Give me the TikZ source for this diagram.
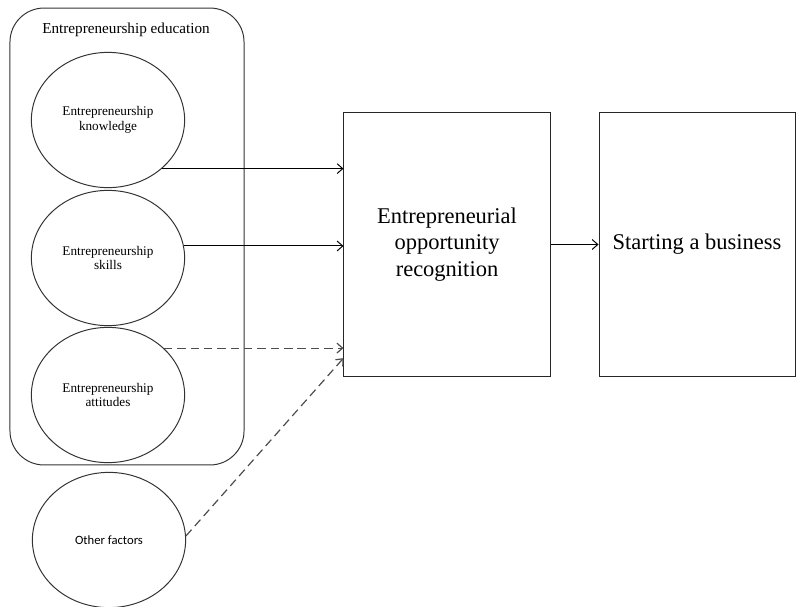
\documentclass[tikz,border=0pt]{standalone}
\usepackage{fontspec}
\setmainfont{Liberation Serif}
\newfontfamily\calibrifont{Carlito}
\usepackage{tikz}
\usetikzlibrary{arrows.meta,shapes,positioning}

\begin{document}
\begin{tikzpicture}[
    x=0.025cm, y=-0.025cm,
    line width=0.7pt,
    oval/.style={ellipse, draw=black!80, minimum width=3.83cm, minimum height=3.38cm, inner sep=0pt, align=center, font=\fontsize{9.4}{10.6}\selectfont},
    box/.style={rectangle, draw=black!85, minimum height=6.62cm, align=center, font=\fontsize{16}{19}\selectfont},
    arrow/.style={-{Straight Barb[length=4pt,width=7pt]}},
    dasharrow/.style={arrow, draw=black!70, line width=0.85pt, dash pattern=on 6pt off 3.5pt}
]
\useasboundingbox (0,0) rectangle (796,606);

% Entrepreneurship education group
\node[draw=black!80, rounded corners=0.85cm, minimum width=5.85cm, minimum height=11.42cm] (EDU) at (127,236.5) {};
\node[font=\fontsize{10.8}{13}\selectfont] (EDUT) at (126,30) {Entrepreneurship education};

% Ovals
\node[oval] (KN) at (108,120) {Entrepreneurship\\knowledge};
\node[oval] (SK) at (108,258) {Entrepreneurship\\skills};
\node[oval] (AT) at (108,395) {Entrepreneurship\\attitudes};
\node[oval, font=\calibrifont\fontsize{9}{11}\selectfont] (OF) at (109,540) {Other factors};

% Boxes
\node[box, minimum width=5.15cm] (EOR) at (447,244.5) {Entrepreneurial\\opportunity\\recognition};
\node[box, minimum width=4.9cm, right=1.2cm of EOR] (SB) {Starting a business};

% Arrows
\draw[arrow] (KN.-42) -- (EOR.west |- KN.-42);
\draw[arrow] (SK.9) -- (EOR.west |- SK.9);
\draw[dasharrow] (AT.40) -- (EOR.west |- AT.40);
\draw[dasharrow] (OF.3) -- ([yshift=-2.84cm]EOR.west);
\draw[arrow] (EOR) -- (SB);

\end{tikzpicture}
\end{document}
